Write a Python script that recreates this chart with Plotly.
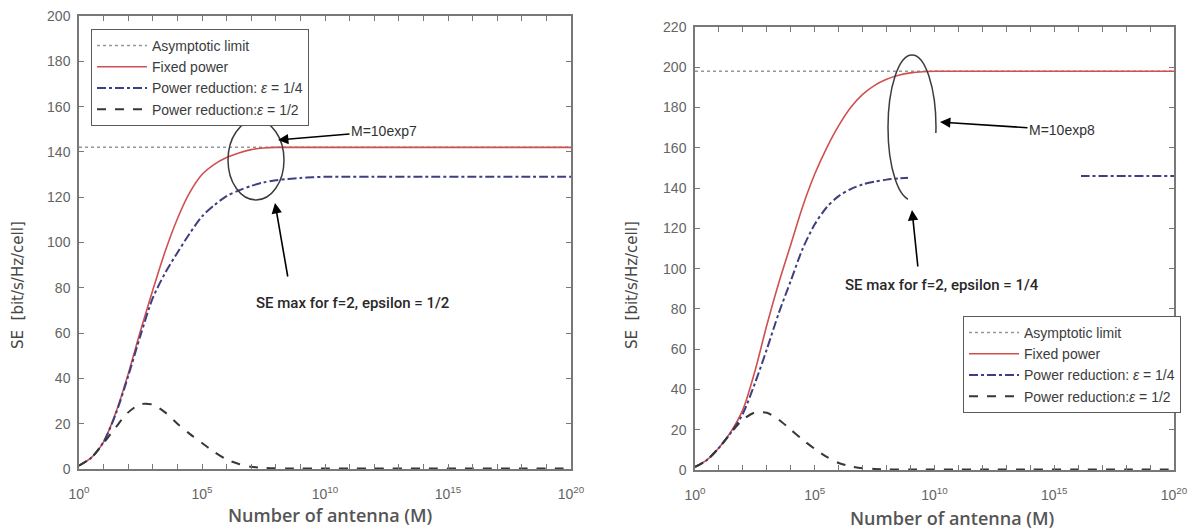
import plotly.graph_objects as go

# The page body adds an 8px margin, so the figure is sized and offset to fit the window.
WIN_W, WIN_H = 1198, 532
OFF = 8
W, H = WIN_W - OFF, WIN_H - OFF

# ---------------- data ----------------
# log10 of the number of antennas M
decades = [0, 0.5, 1, 1.5, 2, 2.5, 3, 3.5, 4, 4.5, 5, 5.5, 6, 6.5, 7, 7.5,
           8, 8.5, 9, 9.5, 10, 11, 12, 14, 16, 18, 20]

# Left panel (f=2, M=10exp7)
asym_left = 142
fixed_left = [1.5, 5, 12, 25, 42, 61, 79, 96, 110.5, 122, 130, 134.5, 137.5, 139.5,
              141, 141.7, 142, 142, 142, 142, 142, 142, 142, 142, 142, 142, 142]
eps14_left = [1.5, 5, 12, 24.5, 41, 59, 75.5, 86.5, 95.5, 104, 111.5, 116.5, 120.5, 123,
              125, 126.5, 127.5, 128, 128.5, 128.8, 129, 129, 129, 129, 129, 129, 129]
eps12_left = [1.5, 5, 11.5, 18.5, 25, 28.6, 28.4, 25, 20, 15.5, 11.5, 7.5, 4.2, 2.2,
              1.0, 0.5, 0.3, 0.2, 0.2, 0.2, 0.2, 0.2, 0.2, 0.2, 0.2, 0.2, 0.2]

# Right panel (f=2, M=10exp8)
asym_right = 198
fixed_right = [1.5, 5, 11, 19, 30, 49, 72, 93, 112, 131, 147, 160, 171, 180,
               186.5, 191, 194, 196, 197.2, 197.8, 198, 198, 198, 198, 198, 198, 198]
eps14_right = [1.5, 5, 11, 18.5, 28, 43, 60, 78, 94, 110, 122, 130.5, 136, 139.5,
               141.8, 143.2, 144.2, 144.8, 145.2, 145.5, 145.7, 145.9, 146, 146, 146, 146, 146]
eps12_right = [1.5, 5, 11, 18.5, 25, 28.6, 28.4, 25, 20, 15, 10.5, 6.5, 3.5, 1.8,
               0.9, 0.5, 0.3, 0.2, 0.2, 0.2, 0.2, 0.2, 0.2, 0.2, 0.2, 0.2, 0.2]

names = ["Asymptotic limit", "Fixed power",
         "Power reduction: <i>ε</i> = 1/4", "Power reduction:<i>ε</i> = 1/2"]
x_tick_decades = list(range(0, 21))
y_ticks_left = list(range(0, 201, 20))
y_ticks_right = list(range(0, 221, 20))

# ---------------- styling ----------------
RED = "rgb(208,80,80)"
BLUE = "rgb(62,62,130)"
BLACK = "rgb(55,55,55)"
GRAY = "rgb(150,150,150)"
AXC = "rgb(120,120,120)"
TXT = "rgb(70,70,70)"

M = [10.0 ** d for d in decades]


def px(x):
    """window pixel x -> paper fraction"""
    return (x - OFF) / W


def py(y):
    """window pixel y (from top) -> paper fraction"""
    return 1 - (y - OFF) / H


fig = go.Figure()


def add_panel(xa, ya, legend, asym, fixed, e14, e12):
    fig.add_trace(go.Scatter(x=[M[0], M[-1]], y=[asym, asym], mode="lines", name=names[0],
                             line=dict(color=GRAY, width=1.5, dash="dot"),
                             xaxis=xa, yaxis=ya, legend=legend, legendgroup=legend + "a"))
    fig.add_trace(go.Scatter(x=M, y=fixed, mode="lines", name=names[1],
                             line=dict(color=RED, width=1.6, shape="spline", smoothing=0.8),
                             xaxis=xa, yaxis=ya, legend=legend, legendgroup=legend + "b"))
    fig.add_trace(go.Scatter(x=M, y=e14, mode="lines", name=names[2],
                             line=dict(color=BLUE, width=2, dash="dashdot", shape="spline", smoothing=0.8),
                             xaxis=xa, yaxis=ya, legend=legend, legendgroup=legend + "c"))
    fig.add_trace(go.Scatter(x=M, y=e12, mode="lines", name=names[3],
                             line=dict(color=BLACK, width=2, dash="dash", shape="spline", smoothing=0.8),
                             xaxis=xa, yaxis=ya, legend=legend, legendgroup=legend + "d"))


add_panel("x", "y", "legend", asym_left, fixed_left, eps14_left, eps12_left)
add_panel("x2", "y2", "legend2", asym_right, fixed_right, eps14_right, eps12_right)

tickfont = dict(family="Liberation Sans, Arial, sans-serif", size=14, color="rgb(100,100,100)")
xtickvals = [10.0 ** d for d in x_tick_decades]
xticktext = ["10<sup>%d</sup>" % d if d % 5 == 0 else "" for d in x_tick_decades]

common_x = dict(type="log", range=[0, 20], tickvals=xtickvals, ticktext=xticktext,
                showline=True, mirror="ticks", linecolor=AXC, linewidth=1.5,
                ticks="inside", ticklen=5, tickcolor=AXC, tickwidth=1, automargin=False,
                ticklabeloverflow="allow",
                showgrid=False, zeroline=False, tickfont=tickfont, ticklabelstandoff=11)
common_y = dict(showline=True, mirror="ticks", linecolor=AXC, linewidth=1.5,
                ticks="inside", ticklen=5, tickcolor=AXC, tickwidth=1, automargin=False,
                ticklabeloverflow="allow",
                showgrid=False, zeroline=False, tickfont=tickfont, ticklabelstandoff=4)

legend_style = dict(bgcolor="white", bordercolor="rgb(90,90,90)", borderwidth=1,
                    font=dict(family="Liberation Sans, Arial, sans-serif", size=14, color="rgb(60,60,60)"),
                    xanchor="left", yanchor="top", itemwidth=50, tracegroupgap=0,
                    xref="paper", yref="paper")

fig.update_layout(
    width=W, height=H, autosize=False,
    margin=dict(l=0, r=0, t=0, b=0),
    paper_bgcolor="white", plot_bgcolor="white",
    xaxis=dict(domain=[px(79), px(571)], anchor="y", **common_x),
    yaxis=dict(domain=[py(469), py(16)], anchor="x", range=[0, 200], tickvals=y_ticks_left, **common_y),
    xaxis2=dict(domain=[px(695), px(1174)], anchor="y2", **common_x),
    yaxis2=dict(domain=[py(470), py(27)], anchor="x2", range=[0, 220], tickvals=y_ticks_right, **common_y),
    legend=dict(x=px(91), y=py(29), **legend_style),
    legend2=dict(x=px(963), y=py(316), **legend_style),
    showlegend=True,
)

# ellipses and occluding white box
fig.add_shape(type="circle", xref="paper", yref="paper", x0=px(228), x1=px(284), y0=py(200), y1=py(120),
              line=dict(color="rgb(60,60,60)", width=1.5), layer="above")
fig.add_shape(type="circle", xref="paper", yref="paper", x0=px(888), x1=px(936), y0=py(200), y1=py(55),
              line=dict(color="rgb(60,60,60)", width=1.5), layer="above")
fig.add_shape(type="rect", xref="paper", yref="paper", x0=px(908), x1=px(1081), y0=py(300), y1=py(133),
              fillcolor="white", line=dict(width=0), layer="above")

annfont = dict(family="Liberation Sans, Arial, sans-serif", size=14, color="rgb(50,50,50)")
semfont = dict(family="Roboto, sans-serif", size=15, color="rgb(40,40,40)", weight=500)
arrow = dict(showarrow=True, arrowhead=2, arrowsize=1.3, arrowwidth=1.6, arrowcolor="black",
             xref="paper", yref="paper")
centered = dict(showarrow=False, xref="paper", yref="paper", xanchor="center", yanchor="middle")

fig.add_annotation(x=px(278), y=py(140), ax=106, ay=-9, text="M=10exp7", font=annfont, **arrow)
fig.add_annotation(x=px(275), y=py(203), ax=13, ay=75, text="", **arrow)
fig.add_annotation(x=px(352), y=py(303), text="SE max for f=2, epsilon = 1/2", font=semfont, **centered)
fig.add_annotation(x=px(940), y=py(122), ax=122, ay=8, text="M=10exp8", font=annfont, **arrow)
fig.add_annotation(x=px(912), y=py(210), ax=6, ay=58, text="", **arrow)
fig.add_annotation(x=px(942), y=py(285), text="SE max for f=2, epsilon = 1/4", font=semfont, **centered)

ytitle_font = dict(family="DejaVu Sans, sans-serif", size=15, color=TXT)
xtitle_font = dict(family="Open Sans, sans-serif", size=18, color="rgb(85,85,85)", weight=600)
for xx in (18, 632):
    fig.add_annotation(x=px(xx), y=py(285), text="SE  [bit/s/Hz/cell]", textangle=-90,
                       font=ytitle_font, **centered)
fig.add_annotation(x=px(330), y=py(515), text="Number of antenna (M)", font=xtitle_font, **centered)
fig.add_annotation(x=px(952), y=py(518), text="Number of antenna (M)", font=xtitle_font, **centered)

fig.write_html("out.html")
